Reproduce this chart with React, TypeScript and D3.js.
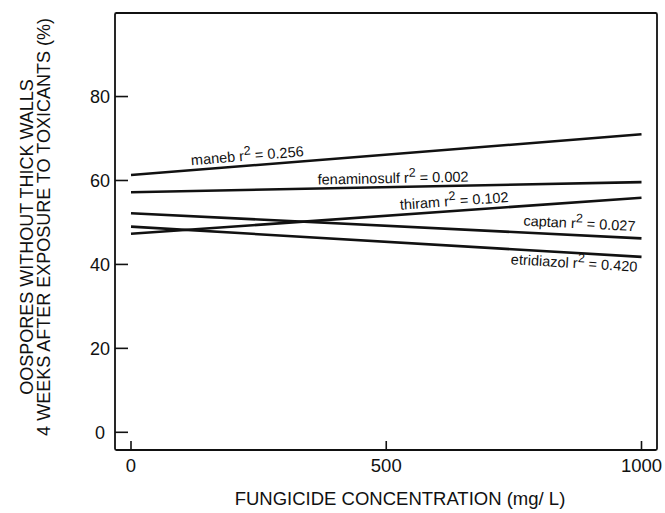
import React from "react";
import * as d3 from "d3";

// ---- data ----
const fungicides = ["maneb", "fenaminosulf", "thiram", "captan", "etridiazol"];
const r2Values = ["0.256", "0.002", "0.102", "0.027", "0.420"];
const concentrations = [0, 1000];
const valuesAtLow = [61.3, 57.2, 47.3, 52.2, 49.0];
const valuesAtHigh = [71.0, 59.6, 55.9, 46.2, 41.8];
const yTicks = [0, 20, 40, 60, 80];
const xTicks = [0, 500, 1000];

// label placement (style/layout only)
const labelAtX = [119, 366, 528, 987, 993];
const labelAnchor = ["start", "start", "start", "end", "end"];
const labelOffset = [-5, -4, -5, -7, 15];

const W = 665;
const H = 513;
const plotLeft = 115;
const plotRight = 657;
const plotTop = 13;
const plotBottom = 450;
const FONT = "'Liberation Sans', Arial, Helvetica, sans-serif";

export default function App() {
  const x = d3.scaleLinear().domain([0, 1000]).range([131, 641.5]);
  const y = d3.scaleLinear().domain([0, 100]).range([432.3, 12.6]);

  const series = fungicides.map((name, i) => ({
    name,
    r2: r2Values[i],
    points: concentrations.map((c, j) => ({
      c,
      v: j === 0 ? valuesAtLow[i] : valuesAtHigh[i],
    })),
  }));

  const line = d3
    .line<{ c: number; v: number }>()
    .x((d) => x(d.c))
    .y((d) => y(d.v));

  return (
    <svg
      width={W}
      height={H}
      style={{ position: "absolute", left: 0, top: 0, display: "block", background: "#fff" }}
      fontFamily={FONT}
    >
      <rect x={0} y={0} width={W} height={H} fill="#fff" />
      {/* plot frame */}
      <rect
        x={plotLeft}
        y={plotTop}
        width={plotRight - plotLeft}
        height={plotBottom - plotTop}
        fill="none"
        stroke="#111"
        strokeWidth={1.8}
        rx={1.5}
      />
      {/* y ticks */}
      {yTicks.map((t) => (
        <g key={"y" + t}>
          <line x1={plotLeft} x2={plotLeft + 13} y1={y(t)} y2={y(t)} stroke="#111" strokeWidth={1.6} />
          <text x={100} y={y(t)} dy="0.36em" textAnchor="middle" fontSize={18} fill="#111">
            {t}
          </text>
        </g>
      ))}
      {/* x ticks */}
      {xTicks.map((t) => (
        <g key={"x" + t}>
          <line x1={x(t)} x2={x(t)} y1={plotBottom} y2={plotBottom - 9} stroke="#111" strokeWidth={1.6} />
          <text x={x(t)} y={472} textAnchor="middle" fontSize={18.5} fill="#111">
            {t}
          </text>
        </g>
      ))}
      {/* axis titles */}
      <text x={400} y={505} textAnchor="middle" fontSize={18.5} fill="#111">
        FUNGICIDE CONCENTRATION (mg/ L)
      </text>
      <text transform="translate(33,237) rotate(-90)" textAnchor="middle" fontSize={18} fill="#111">
        OOSPORES WITHOUT THICK WALLS
      </text>
      <text transform="translate(50,227) rotate(-90)" textAnchor="middle" fontSize={18} fill="#111">
        4 WEEKS AFTER EXPOSURE TO TOXICANTS (%)
      </text>
      {/* regression lines */}
      {series.map((s) => (
        <path key={s.name} d={line(s.points) || ""} fill="none" stroke="#111" strokeWidth={2.6} />
      ))}
      {/* line labels */}
      {series.map((s, i) => {
        const v0 = s.points[0].v;
        const v1 = s.points[1].v;
        const lx = labelAtX[i];
        const lv = v0 + ((v1 - v0) * lx) / 1000;
        const angle =
          (Math.atan2(y(v1) - y(v0), x(1000) - x(0)) * 180) / Math.PI;
        return (
          <text
            key={"l" + s.name}
            transform={`translate(${x(lx)},${y(lv)}) rotate(${angle})`}
            y={labelOffset[i]}
            textAnchor={labelAnchor[i] as any}
            fontSize={14.5}
            fill="#111"
          >
            {s.name} r
            <tspan fontSize={12.5} dy={-6}>2</tspan>
            <tspan dy={6}> = {s.r2}</tspan>
          </text>
        );
      })}
    </svg>
  );
}
